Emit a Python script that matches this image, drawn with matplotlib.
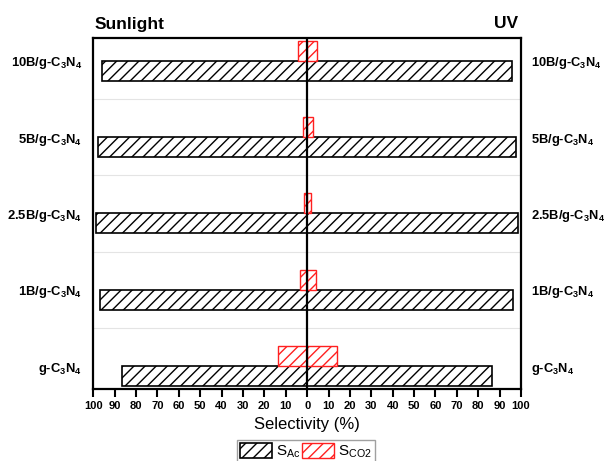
import matplotlib
matplotlib.use("Agg")
import matplotlib.pyplot as plt
import numpy as np

plt.rcParams['font.family'] = ['Liberation Sans', 'DejaVu Sans']
plt.rcParams['mathtext.fontset'] = 'custom'
plt.rcParams['mathtext.rm'] = 'Liberation Sans'
plt.rcParams['mathtext.bf'] = 'Liberation Sans:bold'
plt.rcParams['mathtext.it'] = 'Liberation Sans:italic'
plt.rcParams['hatch.linewidth'] = 1.0

# Data (bottom to top)
categories = [r"g-C$_\mathbf{3}$N$_\mathbf{4}$",
              r"1B/g-C$_\mathbf{3}$N$_\mathbf{4}$",
              r"2.5B/g-C$_\mathbf{3}$N$_\mathbf{4}$",
              r"5B/g-C$_\mathbf{3}$N$_\mathbf{4}$",
              r"10B/g-C$_\mathbf{3}$N$_\mathbf{4}$"]
sun_ac = [86.7, 96.7, 98.7, 97.9, 95.8]
sun_co2 = [13.6, 3.4, 1.3, 2.0, 4.3]
uv_ac = [86.3, 96.4, 98.4, 97.6, 95.8]
uv_co2 = [13.9, 4.3, 2.0, 2.8, 4.6]
xticks = list(range(-100, 101, 10))
xticklabels = [str(abs(t)) for t in xticks]

fig = plt.figure(figsize=(6.05, 4.61), dpi=100)
ax = fig.add_axes([0.1542, 0.1562, 0.8611 - 0.1542, 0.9176 - 0.1562])

y = np.arange(len(categories))
h = 0.262
off = 0.131

for yy in [0.5, 1.5, 2.5, 3.5]:
    ax.axhline(yy, color='#e4e4e4', lw=0.8, zorder=0)

ax.barh(y - off, -np.array(sun_ac), height=h, color='white', edgecolor='black',
        hatch='///', lw=1.2, zorder=2)
ax.barh(y - off, uv_ac, height=h, color='white', edgecolor='black',
        hatch='///', lw=1.2, zorder=2, label=r'S$_\mathrm{Ac}$')
ax.barh(y + off, -np.array(sun_co2), height=h, color='white', edgecolor='#ff2020',
        hatch='///', lw=1.0, zorder=3)
ax.barh(y + off, uv_co2, height=h, color='white', edgecolor='#ff2020',
        hatch='///', lw=1.0, zorder=3, label=r'S$_\mathrm{CO2}$')

ax.axvline(0, color='black', lw=1.6, zorder=5)

ax.set_xlim(-100, 100)
ax.set_ylim(-0.3, 4.3)
ax.set_xticks(xticks)
ax.set_xticklabels(xticklabels, fontsize=8, fontweight='bold')
ax.tick_params(axis='x', direction='out', length=6, width=1.5, pad=3)
ax.set_yticks(y)
ax.set_yticklabels(categories, fontsize=9.4, fontweight='bold')
ax.tick_params(axis='y', length=0, pad=8)
for t, lab in zip(y, categories):
    ax.text(1.0 + 10 / 427, t, lab, transform=ax.get_yaxis_transform(),
            ha='left', va='center_baseline', fontsize=9.3, fontweight='bold')

for s in ax.spines.values():
    s.set_linewidth(1.6)

ax.set_xlabel('Selectivity (%)', fontsize=12, labelpad=4)

fig.text(95 / 605, 1 - 24 / 461, 'Sunlight', fontsize=12.5, fontweight='bold',
         ha='left', va='center')
fig.text(518 / 605, 1 - 24 / 461, 'UV', fontsize=12.5, fontweight='bold',
         ha='right', va='center')

leg = ax.legend(loc='upper center', bbox_to_anchor=(306 / 605, 1 - 440 / 461),
                bbox_transform=fig.transFigure, ncol=2, fontsize=11,
                frameon=True, fancybox=False, handlelength=2.1, handleheight=1.1,
                handletextpad=0.25, columnspacing=0.1, borderpad=0.2,
                borderaxespad=0)
leg.get_frame().set_edgecolor('#888888')
leg.get_frame().set_linewidth(1.0)

fig.savefig('out.png', dpi=100)
